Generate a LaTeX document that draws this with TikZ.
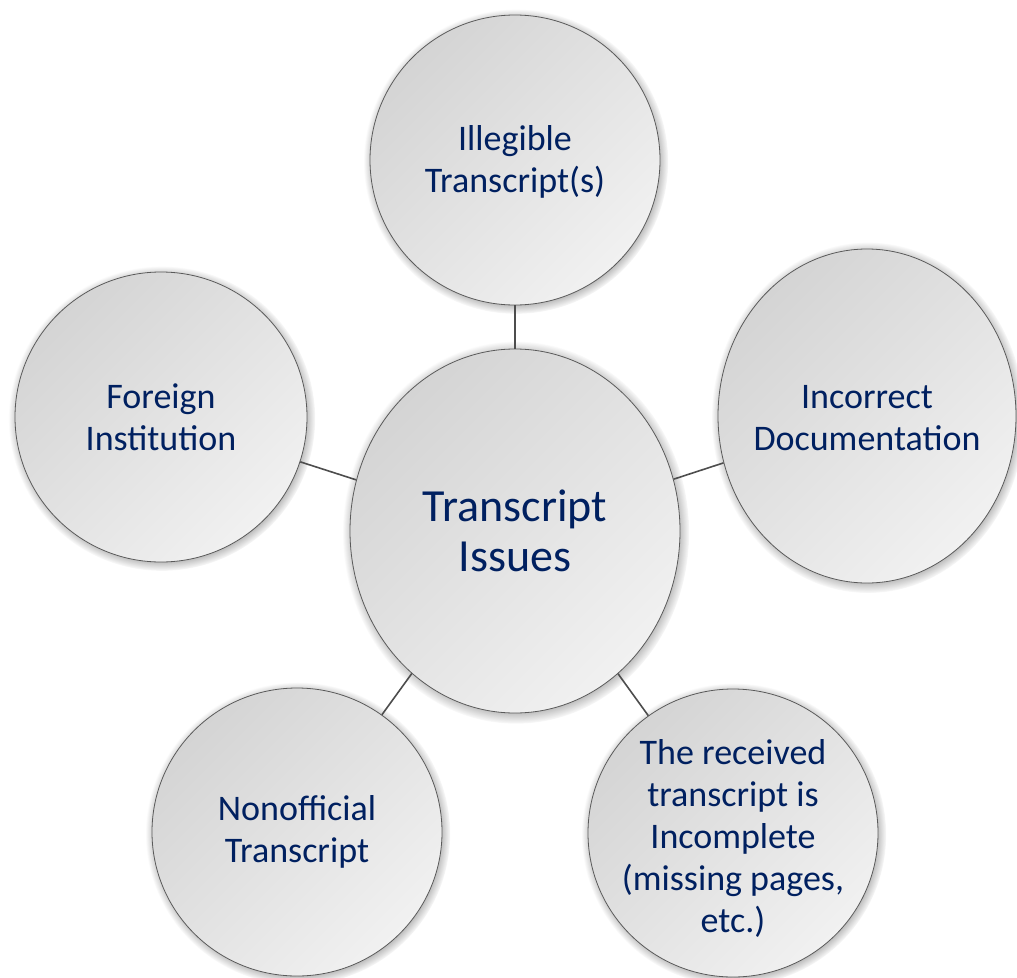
\documentclass[tikz,border=0pt]{standalone}
\usepackage{fontspec}
\setmainfont{Carlito}
\usetikzlibrary{shapes.geometric,shadows}
\definecolor{txtblue}{HTML}{002060}
\definecolor{rimgray}{HTML}{5A5A5A}
\definecolor{linegray}{HTML}{4D4D4D}
\definecolor{fillhi}{HTML}{F1F1F1}
\definecolor{filllo}{HTML}{D4D4D4}
\tikzset{
  bubble/.style={ellipse, draw=rimgray, line width=0.8pt, inner sep=0pt,
    top color=filllo, bottom color=fillhi, shading angle=45,
    circular drop shadow={shadow scale=1.05, shadow xshift=1pt, shadow yshift=-1.5pt, fill=black!60}},
  caption/.style={text=txtblue, align=center, inner sep=0pt,
    font=\fontsize{36}{42}\selectfont},
  spoke/.style={draw=linegray, line width=1.6pt}
}

\begin{document}
\begin{tikzpicture}[x=1pt,y=-1pt]
  \useasboundingbox (0,0) rectangle (1017,977);
  \node[bubble, minimum width=330pt, minimum height=364pt] (hub) at (515,531) {};
  \node[bubble, minimum width=290pt, minimum height=290pt] (illegible) at (515,160) {};
  \node[bubble, minimum width=292pt, minimum height=290pt] (foreign) at (161,417) {};
  \node[bubble, minimum width=298pt, minimum height=334pt] (incorrect) at (867,416) {};
  \node[bubble, minimum width=290pt, minimum height=288pt] (nonofficial) at (297,832) {};
  \node[bubble, minimum width=290pt, minimum height=288pt] (incomplete) at (733,833) {};
  \node[caption, font=\fontsize{46}{50}\selectfont] (hub-txt) at (hub) {Transcript\\Issues};
  \node[caption] (illegible-txt) at ([yshift=-2pt]illegible.center) {Illegible\\Transcript(s)};
  \node[caption] (foreign-txt) at (foreign) {Foreign\\Institution};
  \node[caption] (incorrect-txt) at ([yshift=-2pt]incorrect.center) {Incorrect\\Documentation};
  \node[caption] (nonofficial-txt) at (nonofficial) {Nonofficial\\Transcript};
  \node[caption] (incomplete-txt) at ([yshift=-5pt]incomplete.center) {The received\\transcript is\\Incomplete\\(missing pages,\\etc.)};
  \draw[spoke] (hub) -- (illegible);
  \draw[spoke] (hub) -- (foreign);
  \draw[spoke] (hub) -- (incorrect);
  \draw[spoke] (hub) -- (nonofficial);
  \draw[spoke] (hub) -- (incomplete);
\end{tikzpicture}
\end{document}
